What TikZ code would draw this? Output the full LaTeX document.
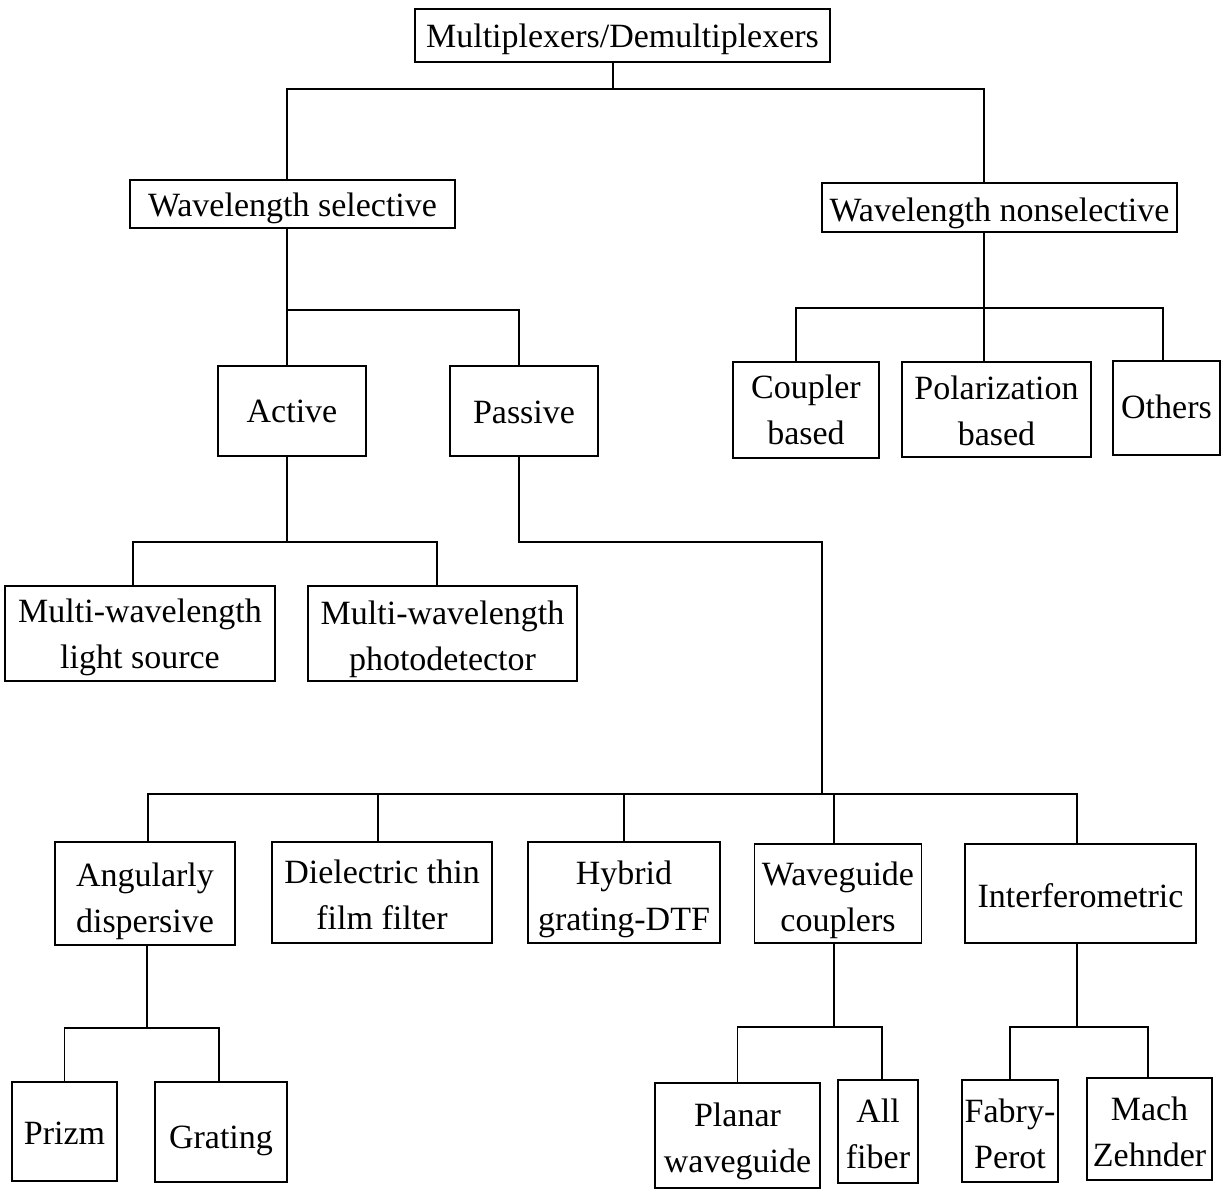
\documentclass[tikz,border=0pt]{standalone}
\usepackage{fontspec}
\setmainfont{Liberation Serif}
\newcommand\bxt[2]{\raisebox{-#1pt}[\height][\depth]{\begin{tabular}{@{}c@{}}#2\end{tabular}}}
\begin{document}
\begin{tikzpicture}[x=1pt,y=-1pt,
  box/.style={draw, line width=1.8pt, inner sep=0pt,
    font=\fontsize{34}{46}\selectfont},
  conn/.style={line width=1.8pt}]
\useasboundingbox (0,0) rectangle (1225,1194);
% boxes
\node[box, minimum width=415pt, minimum height=53pt] (mux) at (622.5,35.5) {\bxt{3}{Multiplexers/Demultiplexers}};
\node[box, minimum width=325pt, minimum height=48pt] (ws) at (292.5,204) {\bxt{3}{Wavelength selective}};
\node[box, minimum width=355pt, minimum height=49pt] (wns) at (999.5,207.5) {\bxt{5}{Wavelength nonselective}};
\node[box, minimum width=148pt, minimum height=90pt] (act) at (292,411) {\bxt{2}{Active}};
\node[box, minimum width=148pt, minimum height=90pt] (pas) at (524,411) {\bxt{3}{Passive}};
\node[box, minimum width=146pt, minimum height=96pt] (coup) at (806,410) {\bxt{2}{Coupler\\based}};
\node[box, minimum width=189pt, minimum height=95pt] (pol) at (996.5,409.5) {\bxt{4}{Polarization\\based}};
\node[box, minimum width=107pt, minimum height=94pt] (oth) at (1166.5,408) {\bxt{1}{Others}};
\node[box, minimum width=270pt, minimum height=95pt] (mwls) at (140,633.5) {\bxt{3}{Multi-wavelength\\light source}};
\node[box, minimum width=269pt, minimum height=95pt] (mwpd) at (442.5,633.5) {\bxt{5}{Multi-wavelength\\photodetector}};
\node[box, minimum width=180pt, minimum height=103pt] (ang) at (145,893.5) {\bxt{7}{Angularly\\dispersive}};
\node[box, minimum width=220pt, minimum height=101pt] (die) at (382,892.5) {\bxt{5}{Dielectric thin\\film filter}};
\node[box, minimum width=192pt, minimum height=101pt] (hyb) at (624,892.5) {\bxt{6}{Hybrid\\grating-DTF}};
\node[box, minimum width=167pt, minimum height=99pt] (wg) at (838,893.5) {\bxt{6}{Waveguide\\couplers}};
\node[box, minimum width=231pt, minimum height=99pt] (int) at (1080.5,893.5) {\bxt{5}{Interferometric}};
\node[box, minimum width=105pt, minimum height=99pt] (prz) at (64.5,1131.5) {\bxt{4}{Prizm}};
\node[box, minimum width=132pt, minimum height=100pt] (grat) at (221,1132) {\bxt{7}{Grating}};
\node[box, minimum width=165pt, minimum height=105pt] (plan) at (737.5,1135.5) {\bxt{5}{Planar\\waveguide}};
\node[box, minimum width=80pt, minimum height=103pt] (allf) at (878,1131.5) {\bxt{5}{All\\fiber}};
\node[box, minimum width=96pt, minimum height=102pt] (fab) at (1010,1131) {\bxt{5}{Fabry-\\Perot}};
\node[box, minimum width=125pt, minimum height=102pt] (mach) at (1149.5,1129) {\bxt{5}{Mach\\Zehnder}};
% junctions
\coordinate (j0) at (613,89);
\coordinate (j1) at (287,310);
\coordinate (j2) at (984,308);
\coordinate (j3) at (287,542);
\coordinate (k4) at (822,542);
\coordinate (j4) at (822,794);
\coordinate (j5) at (147,1028);
\coordinate (j6) at (834,1027);
\coordinate (j7) at (1077,1027);
% connectors
\draw[conn] (mux.south -| j0) -- (j0);
\draw[conn] ([xshift=-5.5pt]ws.north) |- (j0) -| (wns.north -| j2);
\draw[conn] (ws.south -| j1) -- (j1);
\draw[conn] (act.north -| j1) -- (j1) -| ([xshift=-5pt]pas.north);
\draw[conn] (wns.south -| j2) -- (j2);
\draw[conn] ([xshift=-10pt]coup.north) |- (j2) -| ([xshift=-3.5pt]oth.north);
\draw[conn] (pol.north -| j2) -- (j2);
\draw[conn] (act.south -| j3) -- (j3);
\draw[conn] ([xshift=-7pt]mwls.north) |- (j3) -| ([xshift=-5.5pt]mwpd.north);
\draw[conn] ([xshift=-5pt]pas.south) |- (k4) -- (j4);
\draw[conn] ([xshift=3pt]ang.north) |- (j4) -| ([xshift=-3.5pt]int.north);
\draw[conn] ([xshift=-4pt]die.north) -- ([xshift=-4pt]die.north |- j4);
\draw[conn] (hyb.north) -- (hyb.north |- j4);
\draw[conn] (wg.north -| j6) -- (j6 |- j4);
\draw[conn] (ang.south -| j5) -- (j5);
\draw[conn] (prz.north) |- (j5) -| ([xshift=-2pt]grat.north);
\draw[conn] (wg.south -| j6) -- (j6);
\draw[conn] (plan.north) |- (j6) -| ([xshift=4pt]allf.north);
\draw[conn] (int.south -| j7) -- (j7);
\draw[conn] (fab.north) |- (j7) -| ([xshift=-1.5pt]mach.north);
\end{tikzpicture}
\end{document}
